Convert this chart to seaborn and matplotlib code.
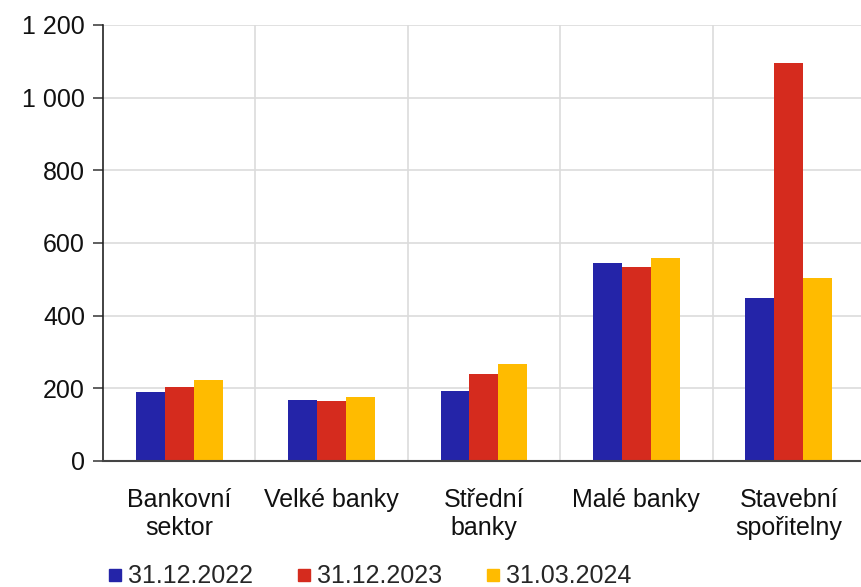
import numpy as np
import pandas as pd
import matplotlib
matplotlib.use('Agg')
import matplotlib.pyplot as plt
import seaborn as sns
from matplotlib.ticker import FuncFormatter, FixedLocator
from matplotlib.lines import Line2D

# ─── Data ────────────────────────────────────────────────────────────────────
categories = ['Bankovní\nsektor', 'Velké banky', 'Střední\nbanky', 'Malé banky', 'Stavební\nspořitelny']
series = ['31.12.2022', '31.12.2023', '31.03.2024']
vals_2022 = [190, 167, 193, 545, 449]
vals_2023 = [204, 165, 238, 534, 1094]
vals_2024 = [222, 176, 268, 559, 504]
colors = ['#2424A8', '#D52B1E', '#FFBB00']

df = pd.DataFrame({
    'kategorie': categories * 3,
    'obdobi': [s for s in series for _ in categories],
    'hodnota': vals_2022 + vals_2023 + vals_2024,
})

# ─── Plot ────────────────────────────────────────────────────────────────────
sns.set_style('white')
plt.rcParams['font.family'] = ['Liberation Sans', 'DejaVu Sans']

fig = plt.figure(figsize=(8.61, 5.87), dpi=100)
ax = fig.add_axes([0.1196, 0.2147, 0.885, 0.7428])

sns.barplot(data=df, x='kategorie', y='hodnota', hue='obdobi', order=categories,
            hue_order=series, palette=colors, width=0.57, gap=0, linewidth=0,
            saturation=1, errorbar=None, legend=False, ax=ax)

ax.set_xlim(-0.5, 4.5)
ax.set_ylim(0, 1200)
ax.set_yticks(range(0, 1201, 200))
ax.yaxis.set_major_formatter(FuncFormatter(lambda v, p: f'{int(v):,}'.replace(',', ' ')))
ax.xaxis.set_minor_locator(FixedLocator([0.5, 1.5, 2.5, 3.5, 4.5]))

ax.grid(axis='y', which='major', color='#dcdcdc', linewidth=1.2)
ax.grid(axis='x', which='minor', color='#dcdcdc', linewidth=1.2)
ax.set_axisbelow(True)

for side in ['top', 'right']:
    ax.spines[side].set_visible(False)
ax.spines['left'].set_color('#222222')
ax.spines['bottom'].set_color('#444444')
ax.spines['left'].set_linewidth(1.2)
ax.spines['bottom'].set_linewidth(1.5)

ax.tick_params(axis='y', which='major', left=True, length=7, width=1.2,
               color='#444444', labelsize=18, pad=6, labelcolor='#111111')
ax.tick_params(axis='x', which='both', bottom=False, labelsize=18, pad=16,
               labelcolor='#111111')
ax.set_xlabel('')
ax.set_ylabel('')

handles = [Line2D([], [], marker='s', linestyle='', markersize=9, color=c) for c in colors]
fig.legend(handles, series, loc='center left', bbox_to_anchor=(0.108, 0.018),
           ncol=3, frameon=False, fontsize=18, handletextpad=0.0,
           columnspacing=1.55, handlelength=1.0, borderaxespad=0)

fig.savefig('out.png', dpi=100)
